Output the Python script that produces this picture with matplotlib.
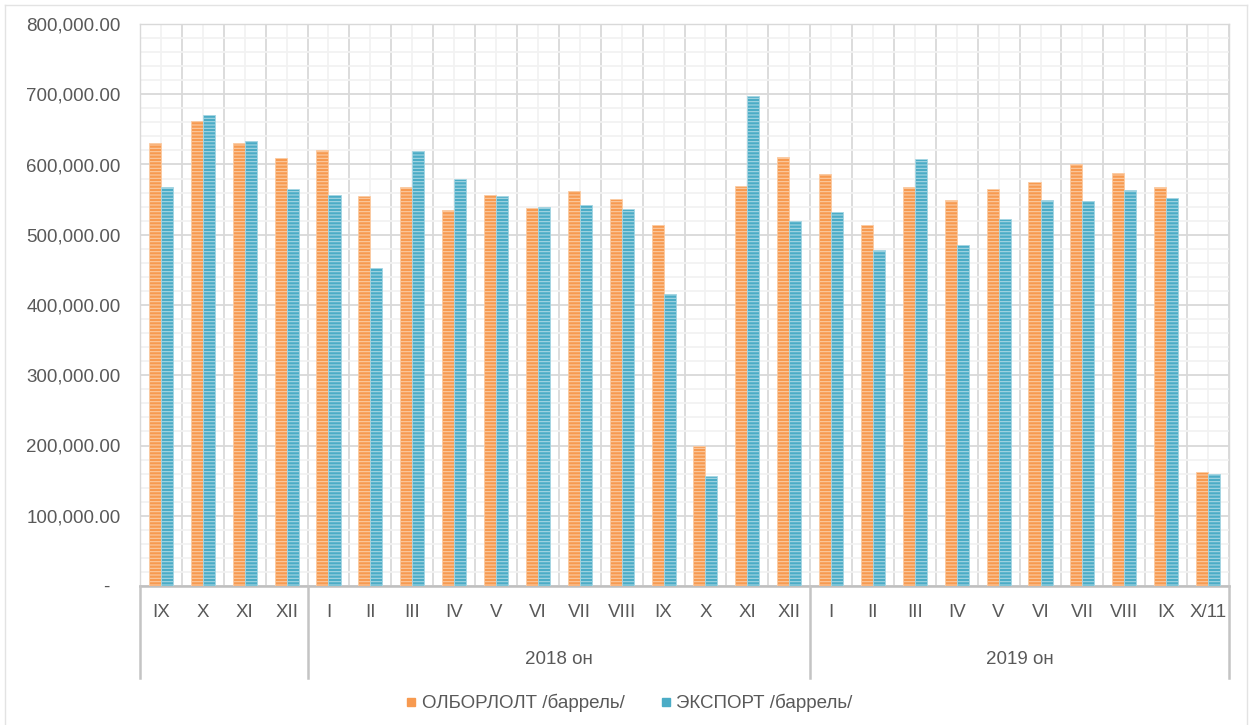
import matplotlib
matplotlib.use('Agg')
import matplotlib.pyplot as plt
from matplotlib.lines import Line2D
from matplotlib.ticker import MultipleLocator, FixedLocator
import numpy as np

plt.rcParams['font.family'] = ['Liberation Sans', 'DejaVu Sans']
plt.rcParams['hatch.linewidth'] = 0.8

months = ['IX', 'X', 'XI', 'XII',
          'I', 'II', 'III', 'IV', 'V', 'VI', 'VII', 'VIII', 'IX', 'X', 'XI', 'XII',
          'I', 'II', 'III', 'IV', 'V', 'VI', 'VII', 'VIII', 'IX', 'X/11']
olborlolt = [631000, 662000, 631000, 609000,
             620000, 555000, 568000, 535000, 557000, 538000, 562000, 551000,
             514000, 199000, 570000, 610000,
             586000, 514000, 568000, 549000, 565000, 575000, 601000, 588000,
             568000, 162000]
export = [568000, 670000, 633000, 565000,
          556000, 452000, 619000, 579000, 555000, 540000, 542000, 537000,
          416000, 157000, 697000, 520000,
          533000, 478000, 608000, 485000, 522000, 549000, 548000, 564000,
          552000, 160000]
# (label, first index, last index)
groups = [('', 0, 3), ('2018 он', 4, 15), ('2019 он', 16, 25)]

series_names = ['ОЛБОРЛОЛТ /баррель/', 'ЭКСПОРТ /баррель/']
text_color = '#595959'
fs = 13.5
orange, orange_lt = '#F79A50', '#FBCBA3'
blue, blue_lt = '#4BACC6', '#A6D6E3'

fig = plt.figure(figsize=(12.49, 7.25), dpi=100)
ax = fig.add_axes([140 / 1249, 139 / 725, 1089 / 1249, 562 / 725])

x = np.arange(len(months))
w = 0.287
ax.bar(x - w / 2, olborlolt, w, color=orange, edgecolor=orange_lt,
       linewidth=0.6, hatch='-----', zorder=3)
ax.bar(x + w / 2, export, w, color=blue, edgecolor=blue_lt,
       linewidth=0.6, hatch='-----', zorder=3)

ax.set_xlim(-0.5, len(months) - 0.5)
ax.set_ylim(0, 800000)

# y axis
yt = list(range(0, 800001, 100000))
ax.yaxis.set_major_locator(FixedLocator(yt))
ax.set_yticklabels(['-  ' if v == 0 else f'{v:,.2f}' for v in yt])
ax.yaxis.set_minor_locator(MultipleLocator(20000))
ax.tick_params(axis='y', which='both', length=0, pad=14,
               labelsize=fs, labelcolor=text_color)

# x axis: month labels on centers, boundaries as minor ticks
ax.set_xticks(x)
ax.set_xticklabels(months)
ax.xaxis.set_minor_locator(FixedLocator(np.arange(-0.5, len(months), 1.0)))
ax.tick_params(axis='x', which='both', length=0, pad=13,
               labelsize=fs, labelcolor=text_color)

ax.yaxis.grid(True, which='major', color='#D9D9D9', linewidth=1.3, zorder=0)
ax.yaxis.grid(True, which='minor', color='#F2F2F2', linewidth=1.3, zorder=0)
ax.xaxis.grid(True, which='minor', color='#D9D9D9', linewidth=1.3, zorder=0)
ax.xaxis.grid(True, which='major', color='#F2F2F2', linewidth=1.3, zorder=0)
ax.set_axisbelow(True)

for s in ['top', 'left', 'right']:
    ax.spines[s].set_color('#D9D9D9')
    ax.spines[s].set_linewidth(1.0)
ax.spines['bottom'].set_color('#BFBFBF')
ax.spines['bottom'].set_linewidth(1.8)

# multi-level category axis
trans = ax.get_xaxis_transform()
sep_bottom = -(678 - 586) / 562
for label, i0, i1 in groups:
    if label:
        ax.text((i0 + i1) / 2, -(660 - 586) / 562, label, transform=trans,
                ha='center', va='center', fontsize=fs, color=text_color)
edges = [groups[0][1] - 0.5] + [g[2] + 0.5 for g in groups]
for e in edges:
    ax.plot([e, e], [0, sep_bottom], transform=trans, color='#C4C4C4',
            linewidth=1.8, clip_on=False, zorder=4)

# legend
handles = [Line2D([], [], marker='s', linestyle='none', markersize=6,
                  markerfacecolor=c, markeredgecolor=c)
           for c in (orange, blue)]
fig.legend(handles, series_names, loc='center', bbox_to_anchor=(629 / 1249, 1 - 703 / 725),
           ncol=2, frameon=False, fontsize=fs, labelcolor=text_color,
           handlelength=0.6, handletextpad=0.25, columnspacing=1.9)

# outer chart frame
for xs, ys in [([5, 5], [0, 720]), ([5, 1247], [720, 720]), ([1247, 1247], [0, 720])]:
    fig.add_artist(Line2D([v / 1249 for v in xs], [v / 725 for v in ys],
                          color='#E3E3E3', linewidth=1.0))

fig.savefig('out.png', dpi=100, facecolor='white')
